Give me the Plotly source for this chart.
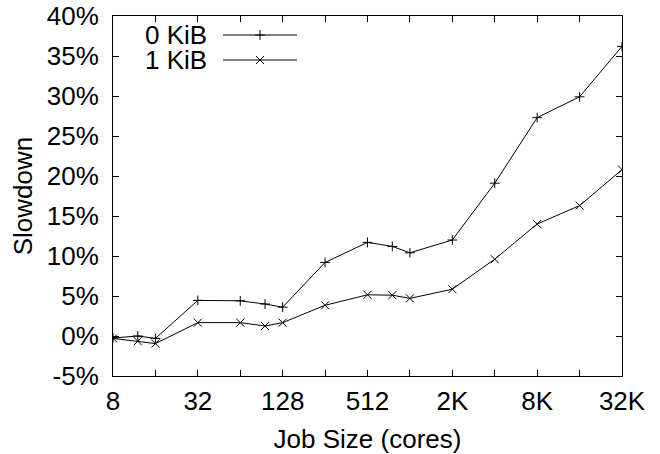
import plotly.graph_objects as go

job_sizes = [8, 12, 16, 32, 64, 96, 128, 256, 512, 768, 1024, 2048, 4096, 8192, 16384, 32768]
slow_0kib = [-0.25, 0.0, -0.3, 4.45, 4.4, 4.0, 3.6, 9.2, 11.7, 11.2, 10.4, 12.0, 19.1, 27.3, 29.9, 36.2]
slow_1kib = [-0.3, -0.65, -0.95, 1.67, 1.67, 1.25, 1.67, 3.84, 5.15, 5.1, 4.7, 5.85, 9.6, 14.0, 16.3, 20.8]
series_names = ["0 KiB", "1 KiB"]

x_tickvals = [8, 16, 32, 64, 128, 256, 512, 1024, 2048, 4096, 8192, 16384, 32768]
x_ticktext = ["8", "", "32", "", "128", "", "512", "", "2K", "", "8K", "", "32K"]
y_tickvals = [-5, 0, 5, 10, 15, 20, 25, 30, 35, 40]
y_ticktext = ["-5%", "0%", "5%", "10%", "15%", "20%", "25%", "30%", "35%", "40%"]

FONT = "Liberation Sans, Arial, Helvetica, sans-serif"
FS = 26

W, H = 660, 454
L, R, T, B = 113, 38, 16, 78
pw, ph = W - L - R, H - T - B

fig = go.Figure()
fig.add_trace(go.Scatter(
    x=job_sizes, y=slow_0kib, mode="lines+markers", name=series_names[0],
    line=dict(color="black", width=1),
    marker=dict(symbol="cross-thin", size=7, line=dict(color="black", width=1)),
    showlegend=False))
fig.add_trace(go.Scatter(
    x=job_sizes, y=slow_1kib, mode="lines+markers", name=series_names[1],
    line=dict(color="black", width=1),
    marker=dict(symbol="x-thin", size=8, line=dict(color="black", width=1)),
    showlegend=False))

# gnuplot-style legend (text left, sample right)
def px2paper(px, py):
    return (px - L) / pw, (H - B - py) / ph

legend_rows = [(35, "cross-thin", 7), (60, "x-thin", 8)]
for (py, sym, sz), name in zip(legend_rows, series_names):
    tx, ty = px2paper(208, py)
    fig.add_annotation(x=tx, y=ty, xref="paper", yref="paper", text=name,
                       showarrow=False, xanchor="right", yanchor="middle",
                       height=22, borderpad=0,
                       font=dict(family=FONT, size=FS, color="black"))
    x0, y0 = px2paper(223, py)
    x1, _ = px2paper(297, py)
    fig.add_shape(type="line", xref="paper", yref="paper", x0=x0, x1=x1, y0=y0, y1=y0,
                  line=dict(color="black", width=1))
    mx, my = px2paper(260, py)
    fig.add_trace(go.Scatter(x=[mx], y=[my], xaxis="x2", yaxis="y2", mode="markers",
                             marker=dict(symbol=sym, size=sz, line=dict(color="black", width=1)),
                             showlegend=False, hoverinfo="skip"))

fig.update_layout(
    width=W, height=H,
    margin=dict(l=L, r=R, t=T, b=B, autoexpand=False),
    paper_bgcolor="white", plot_bgcolor="white",
    font=dict(family=FONT, size=FS, color="black"),
    showlegend=False,
    xaxis=dict(
        type="log", range=[0.90309, 4.51545], automargin=False,
        tickvals=x_tickvals, ticktext=x_ticktext,
        ticks="inside", ticklen=6, tickcolor="black", tickwidth=1,
        showline=True, linecolor="black", linewidth=1, mirror="ticks",
        showgrid=False, zeroline=False,
        ticklabelstandoff=2,
        title=dict(text="Job Size (cores)", standoff=18, font=dict(size=FS)),
        tickfont=dict(size=FS),
    ),
    yaxis=dict(
        range=[-5, 40], automargin=False,
        tickvals=y_tickvals, ticktext=y_ticktext,
        ticks="inside", ticklen=6, tickcolor="black", tickwidth=1,
        showline=True, linecolor="black", linewidth=1, mirror="ticks",
        showgrid=False, zeroline=False,
        ticklabelstandoff=8,
        title=dict(text="Slowdown", standoff=6, font=dict(size=FS)),
        tickfont=dict(size=FS),
    ),
    xaxis2=dict(overlaying="x", range=[0, 1], visible=False),
    yaxis2=dict(overlaying="y", range=[0, 1], visible=False),
)

fig.write_html("out.html", config={"displayModeBar": False},
               post_script="document.body.style.margin='0';document.body.style.overflow='hidden';")
